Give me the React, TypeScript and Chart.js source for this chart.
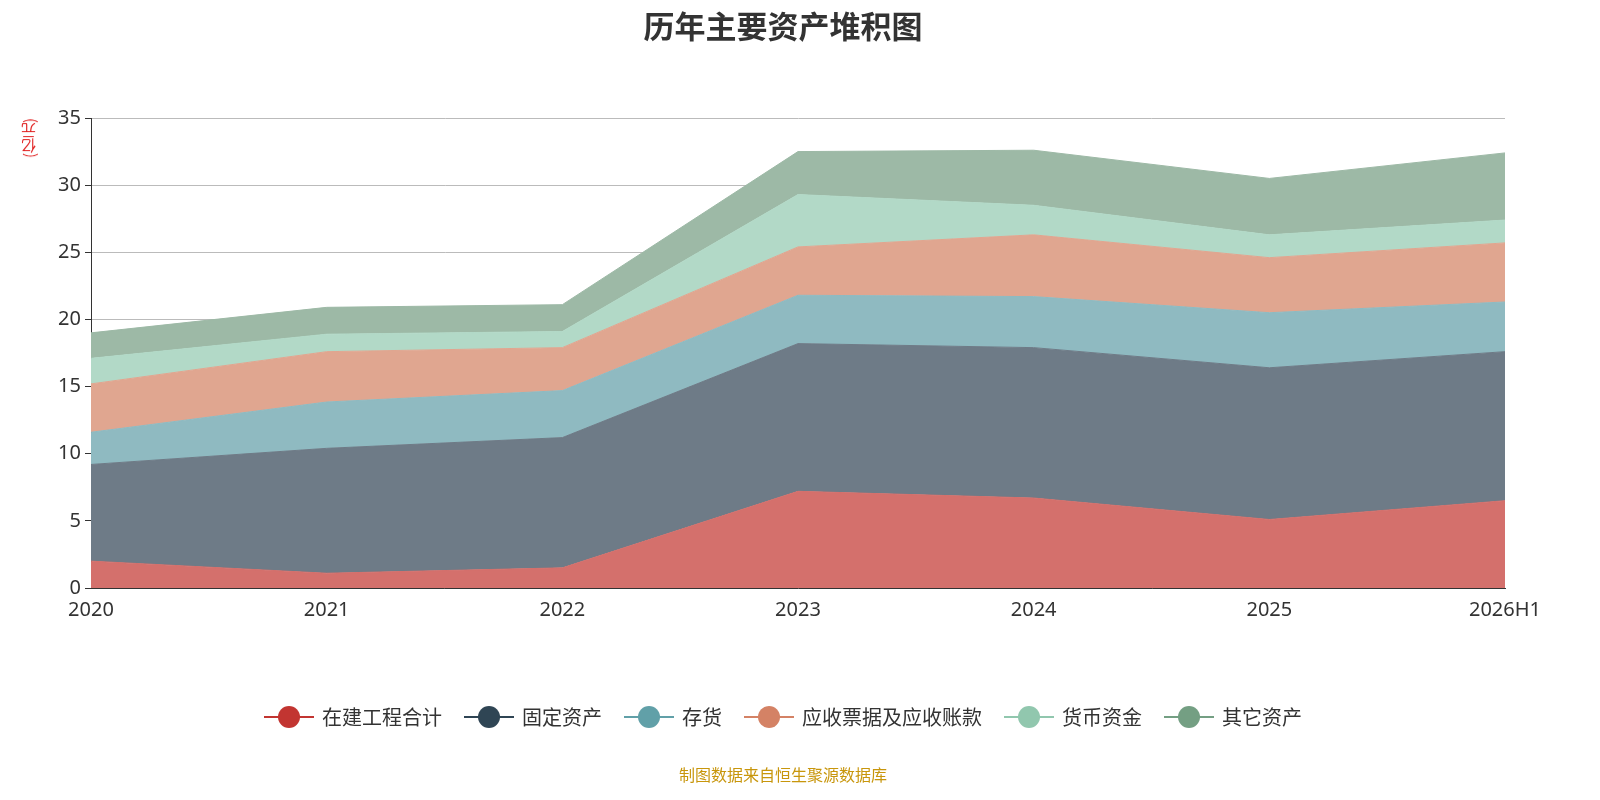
import React, { useEffect, useRef } from "react";
import { Chart, registerables } from "chart.js";
Chart.register(...registerables);

const categories = ["2020", "2021", "2022", "2023", "2024", "2025", "2026H1"];
const seriesNames = ["在建工程合计", "固定资产", "存货", "应收票据及应收账款", "货币资金", "其它资产"];
const zaijian = [2.0, 1.1, 1.5, 7.2, 6.7, 5.1, 6.5];
const guding = [7.2, 9.3, 9.7, 11.0, 11.2, 11.3, 11.1];
const cunhuo = [2.4, 3.45, 3.5, 3.6, 3.8, 4.1, 3.7];
const yingshou = [3.6, 3.75, 3.2, 3.6, 4.6, 4.1, 4.4];
const huobi = [1.9, 1.3, 1.2, 3.9, 2.2, 1.7, 1.7];
const qita = [1.9, 2.0, 2.0, 3.2, 4.1, 4.2, 5.0];
const yTicks = [0, 5, 10, 15, 20, 25, 30, 35];

const lineColors = ["#c23531", "#2f4554", "#61a0a8", "#d48265", "#91c7ae", "#749f83"];
const fillColors = ["#d4706c", "#6e7b87", "#8fbac1", "#e0a690", "#b2d9c7", "#9db9a6"];

export default function App() {
  const ref = useRef<HTMLCanvasElement>(null);
  useEffect(() => {
    const all = [zaijian, guding, cunhuo, yingshou, huobi, qita];
    const chart = new Chart(ref.current!, {
      type: "line",
      data: {
        labels: categories,
        datasets: all.map((d, i) => ({
          label: seriesNames[i],
          data: d,
          fill: i === 0 ? "origin" : "-1",
          backgroundColor: fillColors[i],
          borderColor: fillColors[i],
          borderWidth: 1,
          pointRadius: 0,
          tension: 0,
        })),
      },
      options: {
        animation: false,
        responsive: false,
        layout: { padding: { left: 0, right: 95, top: 118, bottom: 0 } },
        plugins: { legend: { display: false }, tooltip: { enabled: false } },
        scales: {
          x: {
            offset: false,
            grid: { display: false, drawTicks: true },
            border: { color: "#333", width: 1 },
            ticks: { color: "#333", font: { size: 20, family: "Noto Sans" }, maxRotation: 0, padding: 2 },
            afterFit: (s: any) => { s.height = 212; },
          },
          y: {
            stacked: true,
            min: 0,
            max: 35,
            afterBuildTicks: (s: any) => { s.ticks = yTicks.map((v) => ({ value: v })); },
            grid: { color: "#bbb", tickLength: 6, tickColor: "#333" },
            border: { color: "#333", width: 1 },
            ticks: { color: "#333", font: { size: 20, family: "Noto Sans" }, padding: 4 },
            afterFit: (s: any) => { s.width = 91; },
          },
        },
      },
    });
    return () => chart.destroy();
  }, []);

  return (
    <div style={{ position: "absolute", left: 0, top: 0, width: 1600, height: 800, fontFamily: "Noto Sans CJK SC" }}>
      <canvas ref={ref} width={1600} height={800} style={{ position: "absolute", left: 0, top: 0 }} />
      <div style={{ position: "absolute", top: 2, width: 1566, textAlign: "center", fontSize: 31, fontWeight: "bold", color: "#333" }}>
        历年主要资产堆积图
      </div>
      <div style={{ position: "absolute", left: 18, top: 118, color: "#e02020", fontSize: 15, writingMode: "vertical-rl" as any, transform: "rotate(180deg)" }}>
        (亿元)
      </div>
      <div style={{ position: "absolute", top: 702, width: 1566, display: "flex", justifyContent: "center", gap: 22, fontSize: 20, color: "#333" }}>
        {seriesNames.map((n, i) => (
          <div key={n} style={{ display: "flex", alignItems: "center", gap: 8 }}>
            <div style={{ position: "relative", width: 50, height: 24 }}>
              <div style={{ position: "absolute", top: 11, left: 0, width: 50, height: 2, background: lineColors[i] }} />
              <div style={{ position: "absolute", top: 1, left: 14, width: 22, height: 22, borderRadius: 11, background: lineColors[i] }} />
            </div>
            <span>{n}</span>
          </div>
        ))}
      </div>
      <div style={{ position: "absolute", top: 762, width: 1566, textAlign: "center", fontSize: 16, color: "#c8960c" }}>
        制图数据来自恒生聚源数据库
      </div>
    </div>
  );
}
